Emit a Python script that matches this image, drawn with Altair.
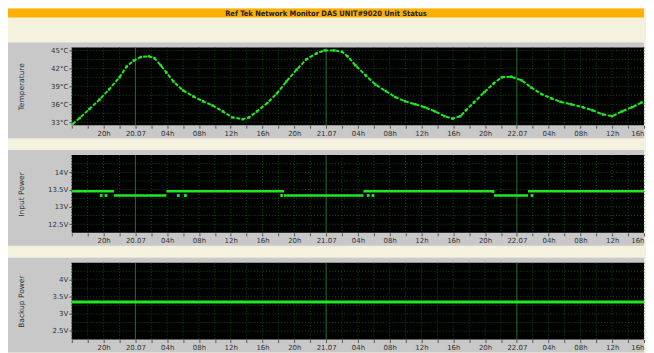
import json
import altair as alt
import pandas as pd

TITLE = "Ref Tek Network Monitor DAS UNIT#9020 Unit Status"

# x axis: hours since 19.07 16:00
x_tick_hours = list(range(0, 73, 2))
x_tick_labels = ["", "", "20h", "", "20.07", "", "04h", "", "08h", "", "12h", "", "16h", "",
                 "20h", "", "21.07", "", "04h", "", "08h", "", "12h", "", "16h", "",
                 "20h", "", "22.07", "", "04h", "", "08h", "", "12h", "", "16h"]
midnight_hours = [8, 32, 56]

# Temperature (°C)
temp_hours = [0.1, 1.0, 2.2, 3.5, 4.7, 6.0, 6.9, 7.8, 8.7, 9.7, 10.4, 11.2, 11.9, 12.8, 14.0,
              15.3, 16.5, 17.7, 19.0, 20.2, 21.5, 22.3, 23.3, 24.6, 25.8, 27.0, 28.3, 29.5,
              30.8, 31.8, 33.0, 34.0, 34.7, 35.7, 37.0, 38.2, 39.5, 40.7, 41.9, 43.2, 44.4,
              45.7, 46.9, 47.9, 48.9, 49.6, 50.6, 51.9, 53.1, 54.1, 55.3, 56.6, 57.8, 59.1,
              60.3, 61.5, 62.8, 64.3, 65.5, 66.8, 68.0, 69.2, 70.5, 71.7]
temp_values = [32.7, 33.7, 35.2, 36.8, 38.5, 40.5, 42.3, 43.3, 43.9, 44.0, 43.7, 42.5, 41.3,
               39.8, 38.3, 37.3, 36.5, 35.8, 34.8, 33.8, 33.5, 33.8, 34.8, 36.2, 37.8, 39.8,
               41.8, 43.5, 44.5, 45.0, 45.0, 44.8, 44.0, 42.5, 40.8, 39.3, 38.2, 37.2, 36.5,
               36.0, 35.5, 34.8, 34.0, 33.6, 34.0, 35.0, 36.3, 38.0, 39.5, 40.5, 40.6, 40.0,
               38.8, 37.7, 37.0, 36.4, 36.0, 35.5, 35.0, 34.3, 34.0, 34.8, 35.5, 36.3]
temp_labels = [33, 36, 39, 42, 45]
temp_grid = [33, 34.5, 36, 37.5, 39, 40.5, 42, 43.5, 45]

# Input power (V): level segments + scattered samples
inp_start = [0.0, 5.3, 11.9, 26.7, 36.7, 53.1, 57.4]
inp_end = [5.3, 11.9, 26.7, 36.7, 53.1, 57.4, 72.0]
inp_value = [13.45, 13.33, 13.45, 13.33, 13.45, 13.33, 13.45]
inp_dot_hours = [3.7, 4.3, 13.4, 14.3, 26.4, 37.3, 37.9, 57.9, 53.0]
inp_dot_values = [13.33, 13.33, 13.33, 13.33, 13.33, 13.33, 13.33, 13.33, 13.45]
inp_labels = [12.5, 13, 13.5, 14]
inp_grid = [12.5, 12.75, 13, 13.25, 13.5, 13.75, 14, 14.25]

# Backup power (V)
bak_start = [0.0]
bak_end = [72.0]
bak_value = [3.35]
bak_labels = [2.5, 3, 3.5, 4]
bak_grid = [2.5, 2.75, 3, 3.25, 3.5, 3.75, 4, 4.25]

W = 574
GREEN = "#22e622"
GRAY = "#c8c8c8"
CREAM = "#f4f1de"
ORANGE = "#fdb000"
GRID = "#145214"
MID = "#2a6e2a"
FONT = "DejaVu Sans"

one = pd.DataFrame({"k": [0]})
grid_hours = [h for h in x_tick_hours if h not in midnight_hours]


def x_axis():
    return alt.Axis(values=x_tick_hours, labelExpr=json.dumps(x_tick_labels) + "[round(datum.value/2)]",
                    title=None, grid=False, domain=False, tickSize=3, tickColor="#555",
                    labelFont=FONT, labelFontSize=7, labelPadding=1, labelAngle=0, labelFlush=True,
                    labelColor={"condition": {"test": "indexof(datum.label, '.') >= 0", "value": "#4848c0"},
                                "value": "#333333"},
                    zindex=1)


def y_axis(title, labels, unit, h):
    return alt.Axis(values=labels, labelExpr="datum.value + '" + unit + "'", title=title,
                    grid=False, domain=False, tickSize=3, tickColor="#555", labelPadding=1,
                    labelFont=FONT, labelFontSize=7, labelColor="#333333",
                    titleFont=FONT, titleFontSize=7.5, titleFontWeight="normal", titleColor="#333333",
                    titleX=-50, titleY=h / 2, titleAngle=270, titleAlign="center", titleBaseline="middle",
                    zindex=1)


def panel(title, unit, domain, labels, grid, h, data_layers):
    xs = alt.Scale(domain=[0, 72], nice=False, zero=False)
    ys = alt.Scale(domain=domain, nice=False, zero=False)
    ya = y_axis(title, labels, unit, h)
    gray = alt.Chart(one).mark_rect(color=GRAY).encode(
        x=alt.value(-64), x2=alt.value(W), y=alt.value(-5), y2=alt.value(h + 13))
    black = alt.Chart(one).mark_rect(color="black").encode(
        x=alt.value(0), x2=alt.value(W), y=alt.value(0), y2=alt.value(h))
    hgrid = alt.Chart(pd.DataFrame({"v": grid})).mark_rule(
        color=GRID, strokeDash=[1, 2], strokeWidth=1).encode(
        y=alt.Y("v:Q", scale=ys, axis=ya))
    vgrid = alt.Chart(pd.DataFrame({"h": grid_hours})).mark_rule(
        color=GRID, strokeDash=[1, 2], strokeWidth=1).encode(
        x=alt.X("h:Q", scale=xs, axis=x_axis()))
    mid = alt.Chart(pd.DataFrame({"h": midnight_hours})).mark_rule(
        color=MID, strokeWidth=1).encode(
        x=alt.X("h:Q", scale=xs, axis=x_axis()))
    layers = [f(xs, ys, ya) for f in data_layers]
    return alt.layer(gray, black, hgrid, vgrid, mid, *layers).properties(width=W, height=h)


temp_df = pd.DataFrame({"hour": temp_hours, "value": temp_values})
inp_df = pd.DataFrame({"start": inp_start, "end": inp_end, "value": inp_value})
inp_dots = pd.DataFrame({"hour": inp_dot_hours, "value": inp_dot_values})
bak_df = pd.DataFrame({"start": bak_start, "end": bak_end, "value": bak_value})


def temp_line(xs, ys, ya):
    return alt.Chart(temp_df).mark_line(color=GREEN, strokeWidth=2, strokeDash=[4, 1.5]).encode(
        x=alt.X("hour:Q", scale=xs, axis=x_axis()), y=alt.Y("value:Q", scale=ys, axis=ya))


def temp_pts(xs, ys, ya):
    return alt.Chart(temp_df).mark_square(color=GREEN, size=6, opacity=1).encode(
        x=alt.X("hour:Q", scale=xs, axis=x_axis()), y=alt.Y("value:Q", scale=ys, axis=ya))


def seg_layer(df, width):
    def f(xs, ys, ya):
        return alt.Chart(df).mark_rule(color=GREEN, strokeWidth=width).encode(
            x=alt.X("start:Q", scale=xs, axis=x_axis()), x2="end:Q",
            y=alt.Y("value:Q", scale=ys, axis=ya))
    return f


def inp_pts(xs, ys, ya):
    return alt.Chart(inp_dots).mark_square(color=GREEN, size=8, opacity=1).encode(
        x=alt.X("hour:Q", scale=xs, axis=x_axis()), y=alt.Y("value:Q", scale=ys, axis=ya))


p1 = panel("Temperature", "°C", [32.5, 45.5], temp_labels, temp_grid, 78, [temp_line, temp_pts])
p2 = panel("Input Power", "V", [12.25, 14.5], inp_labels, inp_grid, 78, [seg_layer(inp_df, 2.5), inp_pts])
p3 = panel("Backup Power", "V", [2.25, 4.5], bak_labels, bak_grid, 77, [seg_layer(bak_df, 3)])

title_chart = alt.layer(
    alt.Chart(one).mark_rect(color=ORANGE).encode(
        x=alt.value(-64), x2=alt.value(W), y=alt.value(0), y2=alt.value(9)),
    alt.Chart(one).mark_text(text=TITLE, font="DejaVu Sans Condensed", fontSize=7.5,
                             fontWeight="bold", color="#222222", baseline="middle", align="center").encode(
        x=alt.value((W - 64) / 2), y=alt.value(5)),
).properties(width=W, height=9)

chart = alt.vconcat(title_chart, p1, p2, p3, spacing=30, bounds="flush").properties(
    background=CREAM, padding=0).configure_view(stroke=None)

chart.save("out.html", embed_options={"renderer": "svg", "actions": False})
